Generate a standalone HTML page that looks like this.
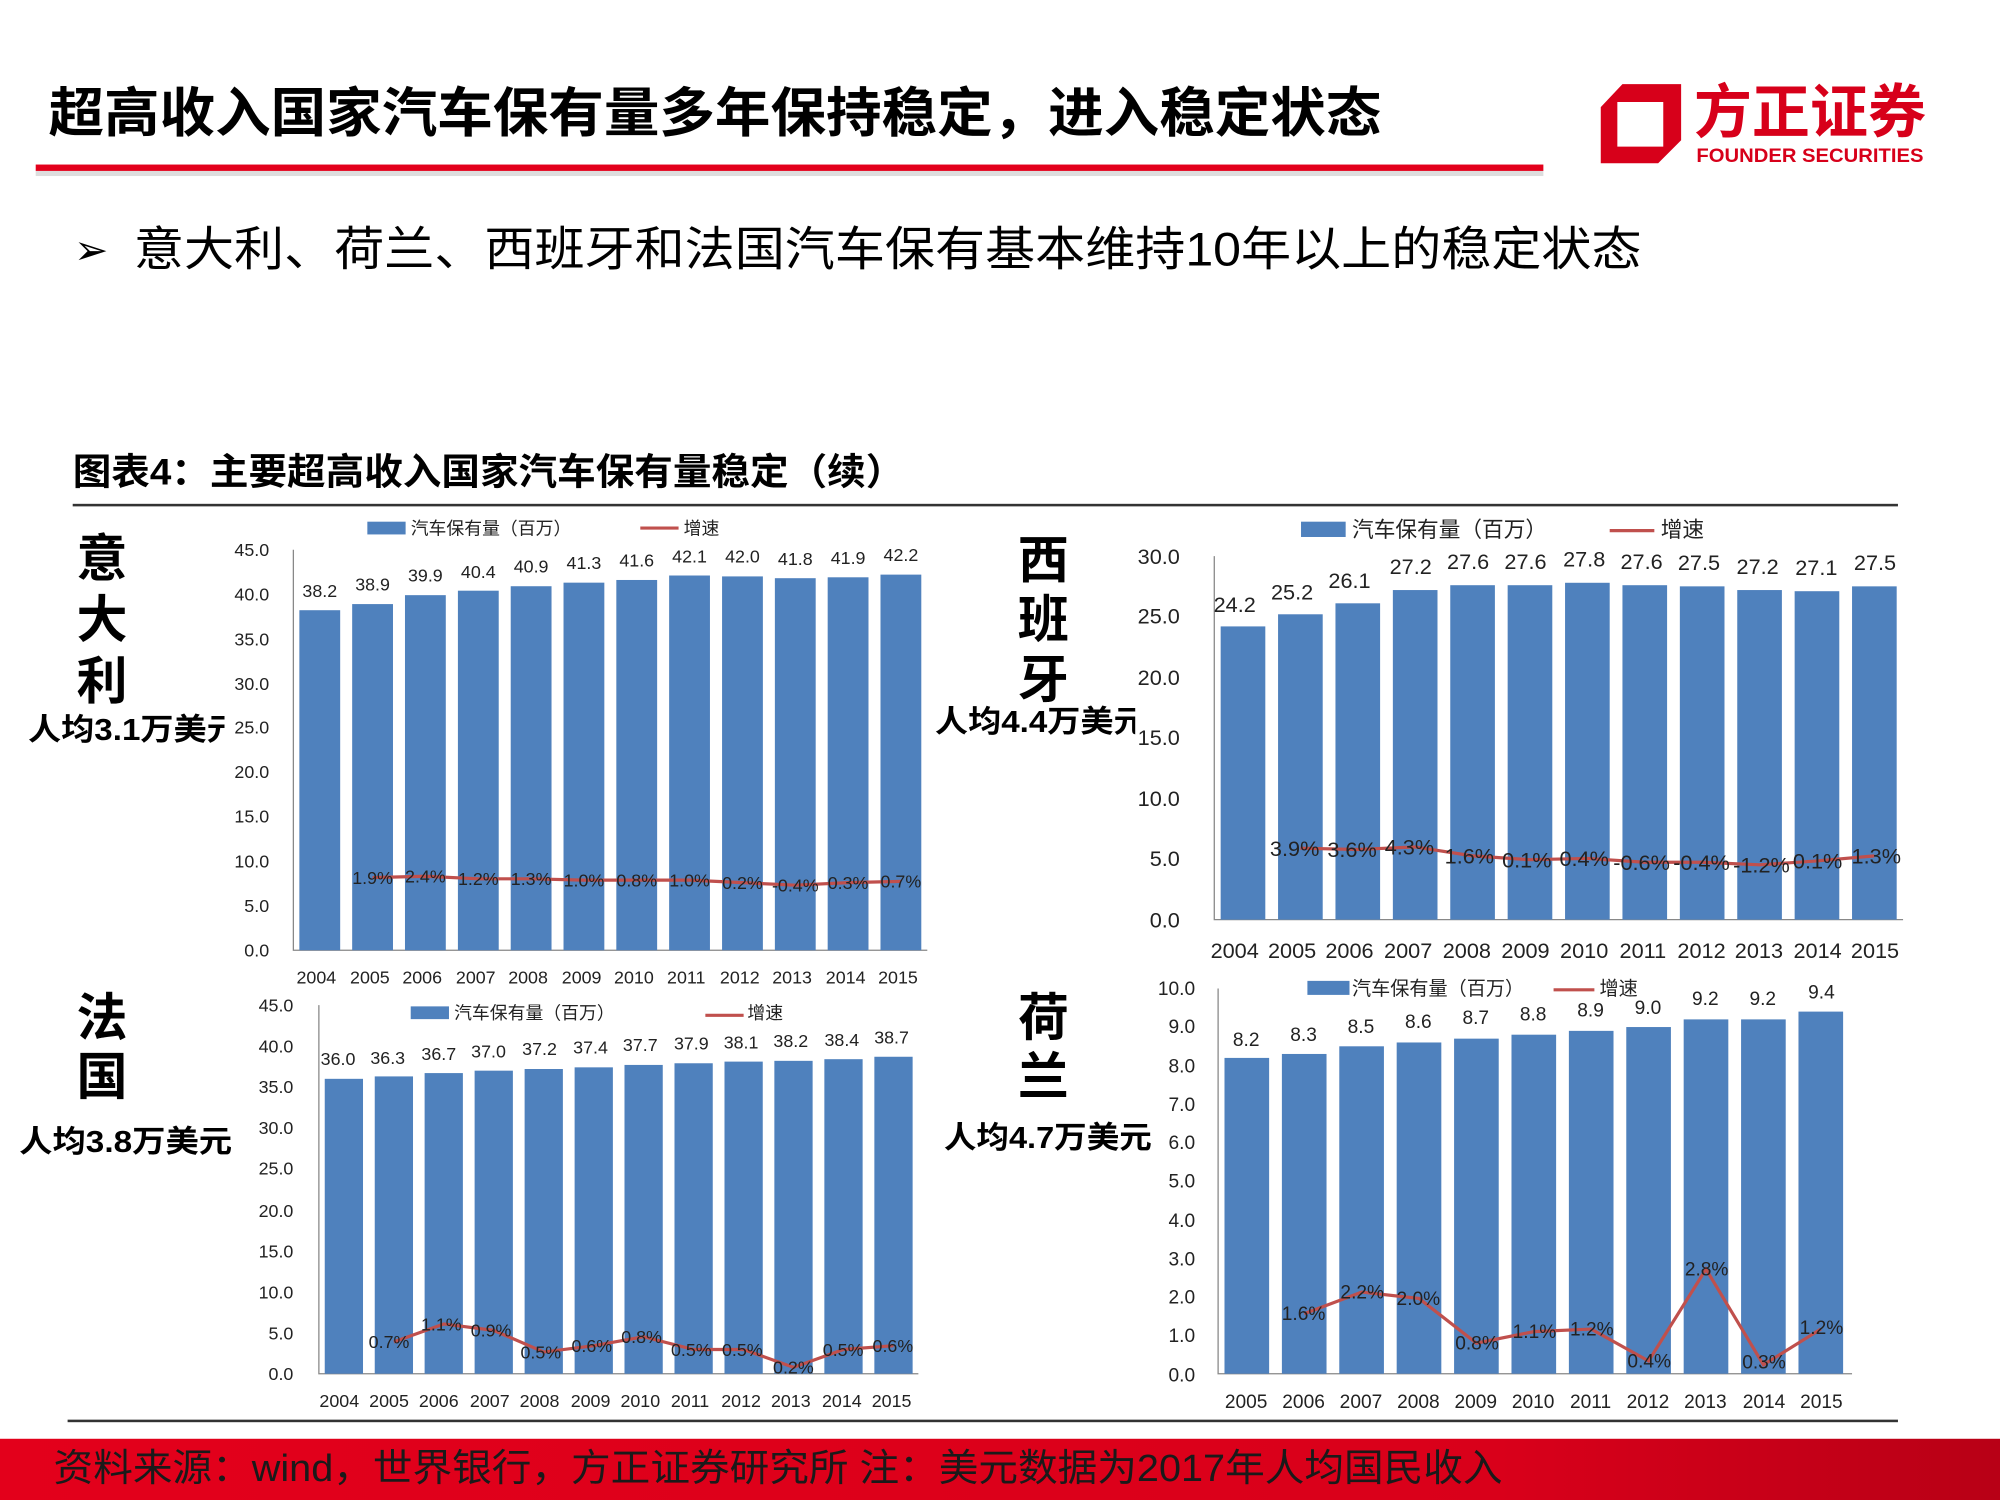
<!DOCTYPE html>
<html><head><meta charset="utf-8"><style>
html,body{margin:0;padding:0;background:#fff;}
svg{display:block;}
text{font-family:"Liberation Sans","Noto Sans CJK SC",sans-serif;}
.b{fill:#4f81bd;}
.t{font-size:14px;fill:#222;}
.ts{font-size:17px;fill:#222;}
.vl{font-size:14px;fill:#222;text-anchor:middle;}
.vs{font-size:17px;fill:#222;text-anchor:middle;}
.g{font-size:14px;fill:#222;text-anchor:middle;}
.gs{font-size:17px;fill:#222;text-anchor:middle;}
.r{text-anchor:end;}
.m{text-anchor:middle;}
.ax{stroke:#888;stroke-width:1;fill:none;}
.ln{stroke:#c0504d;stroke-width:2.5;fill:none;}
.big{font-size:40px;font-weight:bold;fill:#000;text-anchor:middle;}
.pc{font-size:24px;font-weight:bold;fill:#000;}
</style></head><body>
<svg width="2000" height="1500" viewBox="0 0 1568 1176" xmlns="http://www.w3.org/2000/svg">
<defs>
<linearGradient id="ft" x1="0" x2="1"><stop offset="0" stop-color="#e3001b"/><stop offset="0.75" stop-color="#d9001a"/><stop offset="1" stop-color="#b80016"/></linearGradient>
<clipPath id="c1"><rect x="0" y="550" width="176" height="40"/></clipPath>
<clipPath id="c2"><rect x="720" y="545" width="170" height="40"/></clipPath>
</defs>
<rect width="1568" height="1176" fill="#fff"/>
<!-- header -->
<text x="38" y="103" style="font-size:42px;font-weight:bold" fill="#000" textLength="1045" lengthAdjust="spacingAndGlyphs">超高收入国家汽车保有量多年保持稳定，进入稳定状态</text>
<rect x="28" y="134" width="1182" height="4" fill="#ddd"/>
<rect x="28" y="129" width="1182" height="5" fill="#e3001b"/>
<!-- logo -->
<path d="M1272 66 L1318 66 L1318 110 L1300 128 L1255 128 L1255 84 Z M1268 80 L1268 115 L1304 115 L1304 80 Z" fill="#d7001a" fill-rule="evenodd"/>
<text x="1328" y="104" style="font-size:46px;font-weight:bold" fill="#d7001a" textLength="182" lengthAdjust="spacingAndGlyphs">方正证券</text>
<text x="1330" y="127" style="font-size:15px;font-weight:bold" fill="#d7001a" textLength="178" lengthAdjust="spacingAndGlyphs">FOUNDER SECURITIES</text>
<!-- bullet -->
<text x="58" y="207" style="font-size:32px" fill="#000">➢</text>
<text x="105" y="208" style="font-size:37px" fill="#000" textLength="1182" lengthAdjust="spacingAndGlyphs">意大利、荷兰、西班牙和法国汽车保有基本维持10年以上的稳定状态</text>
<!-- chart title -->
<text x="57" y="380" style="font-size:29px;font-weight:bold" fill="#000" textLength="652" lengthAdjust="spacingAndGlyphs">图表4：主要超高收入国家汽车保有量稳定（续）</text>
<rect x="57" y="395" width="1431" height="2" fill="#333"/>
<rect x="53" y="1113" width="1435" height="2" fill="#333"/>
<!-- footer -->
<rect x="0" y="1128" width="1568" height="48" fill="url(#ft)"/>
<text x="42" y="1161" style="font-size:30px" fill="#1a1a1a" textLength="1136" lengthAdjust="spacingAndGlyphs">资料来源：wind，世界银行，方正证券研究所  注：美元数据为2017年人均国民收入</text>

<!-- country labels -->
<text x="80" y="452" class="big">意</text><text x="80" y="500" class="big">大</text><text x="80" y="548" class="big">利</text>
<text x="22" y="580" class="pc" clip-path="url(#c1)" textLength="166" lengthAdjust="spacingAndGlyphs">人均3.1万美元</text>
<text x="818" y="453" class="big">西</text><text x="818" y="500" class="big">班</text><text x="818" y="547" class="big">牙</text>
<text x="733" y="574" class="pc" clip-path="url(#c2)" textLength="166" lengthAdjust="spacingAndGlyphs">人均4.4万美元</text>
<text x="80" y="812" class="big">法</text><text x="80" y="858" class="big">国</text>
<text x="15" y="903" class="pc" textLength="167" lengthAdjust="spacingAndGlyphs">人均3.8万美元</text>
<text x="818" y="812" class="big">荷</text><text x="818" y="858" class="big">兰</text>
<text x="740" y="900" class="pc" textLength="163" lengthAdjust="spacingAndGlyphs">人均4.7万美元</text>

<!-- ITALY -->
<g>
<rect x="288" y="409" width="30" height="10" class="b"/><text x="322" y="419" class="t">汽车保有量（百万）</text>
<line x1="502" y1="414" x2="532" y2="414" class="ln"/><text x="536" y="419" class="t">增速</text>
<g class="t r">
<text x="211" y="750" class="r">0.0</text><text x="211" y="715" class="r">5.0</text><text x="211" y="680" class="r">10.0</text><text x="211" y="645" class="r">15.0</text><text x="211" y="610" class="r">20.0</text><text x="211" y="575" class="r">25.0</text><text x="211" y="541" class="r">30.0</text><text x="211" y="506" class="r">35.0</text><text x="211" y="471" class="r">40.0</text><text x="211" y="436" class="r">45.0</text>
</g>
<path d="M230 431 V745 H727" class="ax"/>
<rect x="234.7" y="478.4" width="32" height="266.6" class="b"/><rect x="276.1" y="473.6" width="32" height="271.4" class="b"/><rect x="317.5" y="466.6" width="32" height="278.4" class="b"/><rect x="359" y="463.1" width="32" height="281.9" class="b"/><rect x="400.4" y="459.6" width="32" height="285.4" class="b"/><rect x="441.8" y="456.8" width="32" height="288.2" class="b"/><rect x="483.2" y="454.7" width="32" height="290.3" class="b"/><rect x="524.6" y="451.2" width="32" height="293.8" class="b"/><rect x="566.1" y="451.9" width="32" height="293.1" class="b"/><rect x="607.5" y="453.3" width="32" height="291.7" class="b"/><rect x="648.9" y="452.6" width="32" height="292.4" class="b"/><rect x="690.3" y="450.5" width="32" height="294.5" class="b"/>
<text x="250.7" y="468" class="vl">38.2</text><text x="292.1" y="463" class="vl">38.9</text><text x="333.5" y="456" class="vl">39.9</text><text x="375" y="453" class="vl">40.4</text><text x="416.4" y="449" class="vl">40.9</text><text x="457.8" y="446" class="vl">41.3</text><text x="499.2" y="444" class="vl">41.6</text><text x="540.6" y="441" class="vl">42.1</text><text x="582.1" y="441" class="vl">42.0</text><text x="623.5" y="443" class="vl">41.8</text><text x="664.9" y="442" class="vl">41.9</text><text x="706.3" y="440" class="vl">42.2</text>
<polyline points="292.1,688 333.5,687 375,689 416.4,689 457.8,690 499.2,690 540.6,690 582.1,692 623.5,694 664.9,692 706.3,691" class="ln"/>
<text x="292.1" y="693" class="g">1.9%</text><text x="333.5" y="692" class="g">2.4%</text><text x="375" y="694" class="g">1.2%</text><text x="416.4" y="694" class="g">1.3%</text><text x="457.8" y="695" class="g">1.0%</text><text x="499.2" y="695" class="g">0.8%</text><text x="540.6" y="695" class="g">1.0%</text><text x="582.1" y="697" class="g">0.2%</text><text x="623.5" y="699" class="g">-0.4%</text><text x="664.9" y="697" class="g">0.3%</text><text x="706.3" y="696" class="g">0.7%</text>
<g class="t"><text x="248" y="771" class="m">2004</text><text x="290" y="771" class="m">2005</text><text x="331" y="771" class="m">2006</text><text x="373" y="771" class="m">2007</text><text x="414" y="771" class="m">2008</text><text x="456" y="771" class="m">2009</text><text x="497" y="771" class="m">2010</text><text x="538" y="771" class="m">2011</text><text x="580" y="771" class="m">2012</text><text x="621" y="771" class="m">2013</text><text x="663" y="771" class="m">2014</text><text x="704" y="771" class="m">2015</text></g>
</g>

<!-- SPAIN -->
<g>
<rect x="1020" y="409" width="35" height="12" class="b"/><text x="1060" y="421" class="ts">汽车保有量（百万）</text>
<line x1="1262" y1="416" x2="1297" y2="416" class="ln"/><text x="1302" y="421" class="ts">增速</text>
<text x="925" y="727" class="ts r">0.0</text><text x="925" y="679" class="ts r">5.0</text><text x="925" y="632" class="ts r">10.0</text><text x="925" y="584" class="ts r">15.0</text><text x="925" y="537" class="ts r">20.0</text><text x="925" y="489" class="ts r">25.0</text><text x="925" y="442" class="ts r">30.0</text>
<path d="M952 436 V721 H1492" class="ax"/>
<rect x="957" y="491.1" width="35" height="229.9" class="b"/><rect x="1002" y="481.6" width="35" height="239.4" class="b"/><rect x="1047" y="473" width="35" height="248" class="b"/><rect x="1092" y="462.6" width="35" height="258.4" class="b"/><rect x="1137" y="458.8" width="35" height="262.2" class="b"/><rect x="1182" y="458.8" width="35" height="262.2" class="b"/><rect x="1227" y="456.9" width="35" height="264.1" class="b"/><rect x="1272" y="458.8" width="35" height="262.2" class="b"/><rect x="1317" y="459.7" width="35" height="261.3" class="b"/><rect x="1362" y="462.6" width="35" height="258.4" class="b"/><rect x="1407" y="463.5" width="35" height="257.5" class="b"/><rect x="1452" y="459.7" width="35" height="261.3" class="b"/>
<text x="968" y="480" class="vs">24.2</text><text x="1013" y="470" class="vs">25.2</text><text x="1058" y="461" class="vs">26.1</text><text x="1106" y="450" class="vs">27.2</text><text x="1151" y="446" class="vs">27.6</text><text x="1196" y="446" class="vs">27.6</text><text x="1242" y="444" class="vs">27.8</text><text x="1287" y="446" class="vs">27.6</text><text x="1332" y="447" class="vs">27.5</text><text x="1378" y="450" class="vs">27.2</text><text x="1424" y="451" class="vs">27.1</text><text x="1470" y="447" class="vs">27.5</text>
<polyline points="1019.5,665 1064.5,666 1109.5,664 1154.5,671 1199.5,674 1244.5,673 1289.5,676 1334.5,676 1379.5,678 1424.5,675 1469.5,671" class="ln"/>
<text x="1015" y="671" class="gs">3.9%</text><text x="1060" y="672" class="gs">3.6%</text><text x="1105" y="670" class="gs">4.3%</text><text x="1152" y="677" class="gs">1.6%</text><text x="1197" y="680" class="gs">0.1%</text><text x="1242" y="679" class="gs">0.4%</text><text x="1287" y="682" class="gs">-0.6%</text><text x="1334" y="682" class="gs">-0.4%</text><text x="1381" y="684" class="gs">-1.2%</text><text x="1425" y="681" class="gs">0.1%</text><text x="1471" y="677" class="gs">1.3%</text>
<g class="ts"><text x="968" y="751" class="m">2004</text><text x="1013" y="751" class="m">2005</text><text x="1058" y="751" class="m">2006</text><text x="1104" y="751" class="m">2007</text><text x="1150" y="751" class="m">2008</text><text x="1196" y="751" class="m">2009</text><text x="1242" y="751" class="m">2010</text><text x="1288" y="751" class="m">2011</text><text x="1334" y="751" class="m">2012</text><text x="1379" y="751" class="m">2013</text><text x="1425" y="751" class="m">2014</text><text x="1470" y="751" class="m">2015</text></g>
</g>

<!-- FRANCE -->
<g>
<rect x="322" y="789" width="30" height="10" class="b"/><text x="356" y="799" class="t">汽车保有量（百万）</text>
<line x1="553" y1="796" x2="583" y2="796" class="ln"/><text x="586" y="799" class="t">增速</text>
<text x="230" y="1082" class="t r">0.0</text><text x="230" y="1050" class="t r">5.0</text><text x="230" y="1018" class="t r">10.0</text><text x="230" y="986" class="t r">15.0</text><text x="230" y="954" class="t r">20.0</text><text x="230" y="921" class="t r">25.0</text><text x="230" y="889" class="t r">30.0</text><text x="230" y="857" class="t r">35.0</text><text x="230" y="825" class="t r">40.0</text><text x="230" y="793" class="t r">45.0</text>
<path d="M250 788 V1077 H720" class="ax"/>
<rect x="254.6" y="845.8" width="30" height="231.2" class="b"/><rect x="293.8" y="843.9" width="30" height="233.1" class="b"/><rect x="332.9" y="841.3" width="30" height="235.7" class="b"/><rect x="372.1" y="839.4" width="30" height="237.6" class="b"/><rect x="411.3" y="838.1" width="30" height="238.9" class="b"/><rect x="450.5" y="836.8" width="30" height="240.2" class="b"/><rect x="489.6" y="834.9" width="30" height="242.1" class="b"/><rect x="528.8" y="833.6" width="30" height="243.4" class="b"/><rect x="568" y="832.3" width="30" height="244.7" class="b"/><rect x="607.1" y="831.7" width="30" height="245.3" class="b"/><rect x="646.3" y="830.4" width="30" height="246.6" class="b"/><rect x="685.5" y="828.5" width="30" height="248.5" class="b"/>
<text x="265" y="835" class="vl">36.0</text><text x="304" y="834" class="vl">36.3</text><text x="344" y="831" class="vl">36.7</text><text x="383" y="829" class="vl">37.0</text><text x="423" y="827" class="vl">37.2</text><text x="463" y="826" class="vl">37.4</text><text x="502" y="824" class="vl">37.7</text><text x="542" y="823" class="vl">37.9</text><text x="581" y="822" class="vl">38.1</text><text x="620" y="821" class="vl">38.2</text><text x="660" y="820" class="vl">38.4</text><text x="699" y="818" class="vl">38.7</text>
<polyline points="308.8,1052 347.9,1038 387.1,1043 426.3,1060 465.5,1055 504.6,1048 543.8,1058 583,1058 622.1,1072 661.3,1058 700.5,1055" class="ln"/>
<text x="305" y="1057" class="g">0.7%</text><text x="346" y="1043" class="g">1.1%</text><text x="385" y="1048" class="g">0.9%</text><text x="424" y="1065" class="g">0.5%</text><text x="464" y="1060" class="g">0.6%</text><text x="503" y="1053" class="g">0.8%</text><text x="542" y="1063" class="g">0.5%</text><text x="582" y="1063" class="g">0.5%</text><text x="622" y="1077" class="g">0.2%</text><text x="661" y="1063" class="g">0.5%</text><text x="700" y="1060" class="g">0.6%</text>
<g class="t"><text x="266" y="1103" class="m">2004</text><text x="305" y="1103" class="m">2005</text><text x="344" y="1103" class="m">2006</text><text x="384" y="1103" class="m">2007</text><text x="423" y="1103" class="m">2008</text><text x="463" y="1103" class="m">2009</text><text x="502" y="1103" class="m">2010</text><text x="541" y="1103" class="m">2011</text><text x="581" y="1103" class="m">2012</text><text x="620" y="1103" class="m">2013</text><text x="660" y="1103" class="m">2014</text><text x="699" y="1103" class="m">2015</text></g>
</g>

<!-- NETHERLANDS -->
<g>
<rect x="1025" y="769" width="33" height="11" class="b"/><text x="1060" y="780" class="t" style="font-size:15px">汽车保有量（百万）</text>
<line x1="1218" y1="776" x2="1250" y2="776" class="ln"/><text x="1254" y="780" class="t" style="font-size:15px">增速</text>
<text x="937" y="1083" class="t r" style="font-size:15px">0.0</text><text x="937" y="1052" class="t r" style="font-size:15px">1.0</text><text x="937" y="1022" class="t r" style="font-size:15px">2.0</text><text x="937" y="992" class="t r" style="font-size:15px">3.0</text><text x="937" y="962" class="t r" style="font-size:15px">4.0</text><text x="937" y="931" class="t r" style="font-size:15px">5.0</text><text x="937" y="901" class="t r" style="font-size:15px">6.0</text><text x="937" y="871" class="t r" style="font-size:15px">7.0</text><text x="937" y="841" class="t r" style="font-size:15px">8.0</text><text x="937" y="810" class="t r" style="font-size:15px">9.0</text><text x="937" y="780" class="t r" style="font-size:15px">10.0</text>
<path d="M955 775 V1077 H1452" class="ax"/>
<rect x="960" y="829.4" width="35" height="247.6" class="b"/><rect x="1005" y="826.3" width="35" height="250.7" class="b"/><rect x="1050" y="820.3" width="35" height="256.7" class="b"/><rect x="1095" y="817.3" width="35" height="259.7" class="b"/><rect x="1140" y="814.3" width="35" height="262.7" class="b"/><rect x="1185" y="811.2" width="35" height="265.8" class="b"/><rect x="1230" y="808.2" width="35" height="268.8" class="b"/><rect x="1275" y="805.2" width="35" height="271.8" class="b"/><rect x="1320" y="799.2" width="35" height="277.8" class="b"/><rect x="1365" y="799.2" width="35" height="277.8" class="b"/><rect x="1410" y="793.1" width="35" height="283.9" class="b"/>
<g style="font-size:15px"><text x="977" y="820" class="vl" style="font-size:15px">8.2</text><text x="1022" y="816" class="vl" style="font-size:15px">8.3</text><text x="1067" y="810" class="vl" style="font-size:15px">8.5</text><text x="1112" y="806" class="vl" style="font-size:15px">8.6</text><text x="1157" y="803" class="vl" style="font-size:15px">8.7</text><text x="1202" y="800" class="vl" style="font-size:15px">8.8</text><text x="1247" y="797" class="vl" style="font-size:15px">8.9</text><text x="1292" y="795" class="vl" style="font-size:15px">9.0</text><text x="1337" y="788" class="vl" style="font-size:15px">9.2</text><text x="1382" y="788" class="vl" style="font-size:15px">9.2</text><text x="1428" y="783" class="vl" style="font-size:15px">9.4</text></g>
<polyline points="1022.5,1030 1067.5,1013 1112.5,1018 1157.5,1053 1202.5,1044 1247.5,1042 1292.5,1067 1337.5,995 1382.5,1070 1427.5,1042" class="ln"/>
<text x="1022" y="1035" class="g" style="font-size:15px">1.6%</text><text x="1068" y="1018" class="g" style="font-size:15px">2.2%</text><text x="1112" y="1023" class="g" style="font-size:15px">2.0%</text><text x="1158" y="1058" class="g" style="font-size:15px">0.8%</text><text x="1203" y="1049" class="g" style="font-size:15px">1.1%</text><text x="1248" y="1047" class="g" style="font-size:15px">1.2%</text><text x="1293" y="1072" class="g" style="font-size:15px">0.4%</text><text x="1338" y="1000" class="g" style="font-size:15px">2.8%</text><text x="1383" y="1073" class="g" style="font-size:15px">0.3%</text><text x="1428" y="1046" class="g" style="font-size:15px">1.2%</text>
<g class="t" style="font-size:15px"><text x="977" y="1104" class="m">2005</text><text x="1022" y="1104" class="m">2006</text><text x="1067" y="1104" class="m">2007</text><text x="1112" y="1104" class="m">2008</text><text x="1157" y="1104" class="m">2009</text><text x="1202" y="1104" class="m">2010</text><text x="1247" y="1104" class="m">2011</text><text x="1292" y="1104" class="m">2012</text><text x="1337" y="1104" class="m">2013</text><text x="1383" y="1104" class="m">2014</text><text x="1428" y="1104" class="m">2015</text></g>
</g>
</svg>
</body></html>
